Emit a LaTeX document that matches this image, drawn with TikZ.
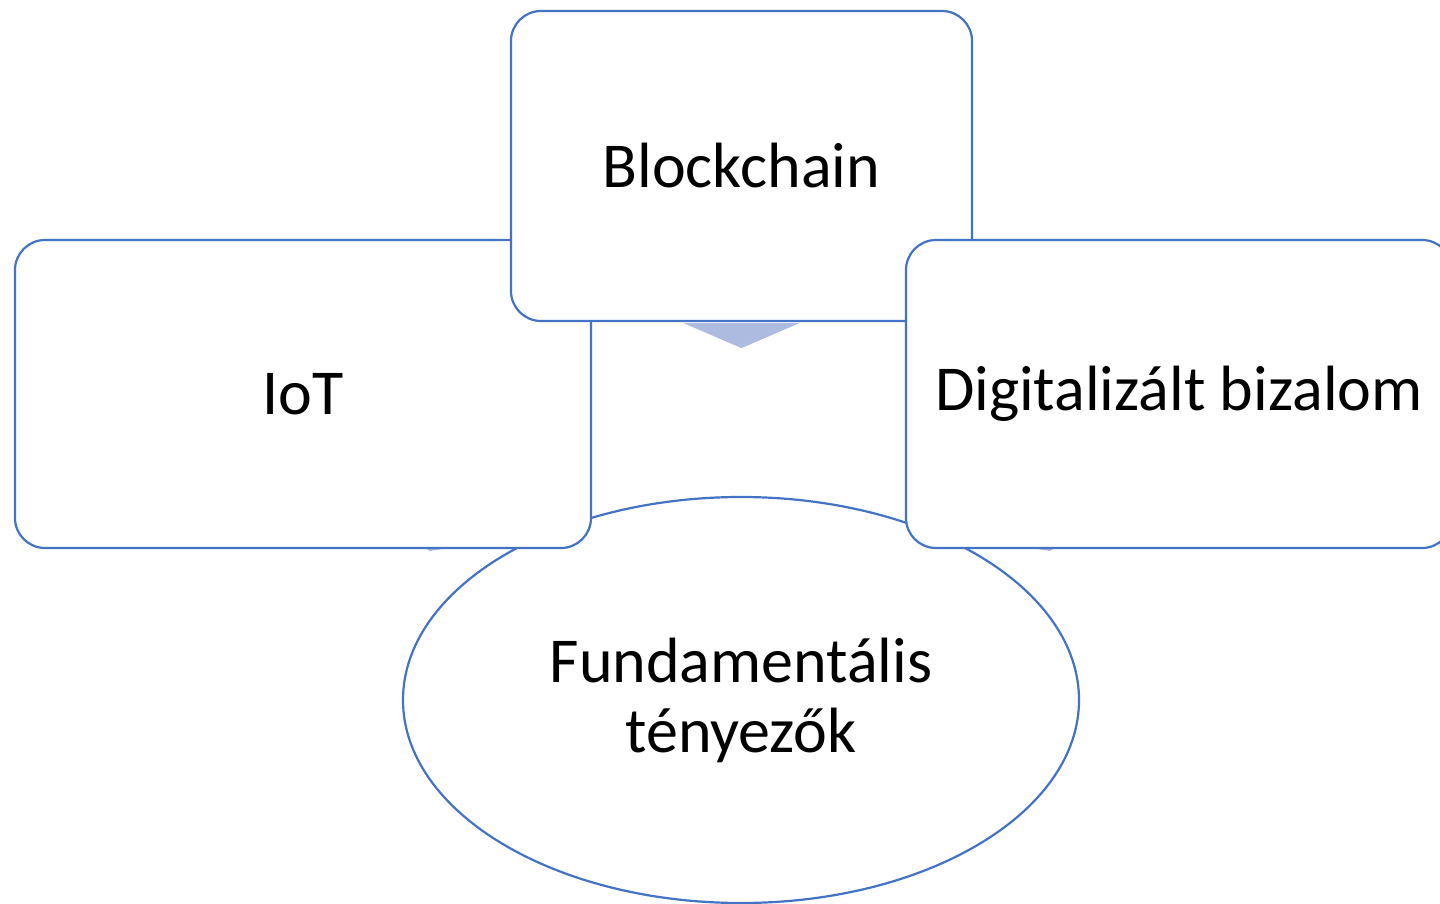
\documentclass[tikz,border=0pt]{standalone}
\usepackage{fontspec}
\setmainfont{Carlito}
\usetikzlibrary{calc,shapes.geometric}
\definecolor{bord}{HTML}{4472C4}
\definecolor{arrfill}{HTML}{AEBBE0}
\tikzset{
  box/.style={draw=bord, fill=white, line width=2.2pt, rounded corners=30pt, inner sep=0pt, font=\fontsize{64}{76}\selectfont, align=center},
  oval/.style={ellipse, draw=bord, fill=white, line width=2.2pt, inner sep=0pt, font=\fontsize{64}{76}\selectfont, align=center},
  arrowtri/.style={fill=arrfill, draw=none}
}
\begin{document}
\begin{tikzpicture}[x=1pt,y=-1pt]
\useasboundingbox (0,0) rectangle (1440,904);
\fill[white] (0,0) rectangle (1440,904);
% hidden arrow slivers
\coordinate (a1) at (430,551);
\coordinate (a2) at (1050,551);
\fill[arrowtri] (a1) -- ++(-6,-4) -- ++(30,0) -- cycle;
\fill[arrowtri] (a2) -- ++(6,-4) -- ++(-30,0) -- cycle;
% ellipse
\node[oval, minimum width=676pt, minimum height=406pt] (fund) at (741,700) {Fundamentális\\[-6pt]tényezők};
% boxes
\node[box, minimum width=576pt, minimum height=308pt] (iot) at (303,394) {IoT};
\node[box, minimum width=461pt, minimum height=310pt] (bc) at (741.5,166) {Blockchain};
\fill[arrowtri] ($(bc.south)+(-58,1)$) -- ($(bc.south)+(58,1)$) -- ($(bc.south)+(0,26)$) -- cycle;
\node[box, minimum width=546pt, minimum height=308pt] (dig) at (1179,394) {Digitalizált bizalom};
\end{tikzpicture}
\end{document}
